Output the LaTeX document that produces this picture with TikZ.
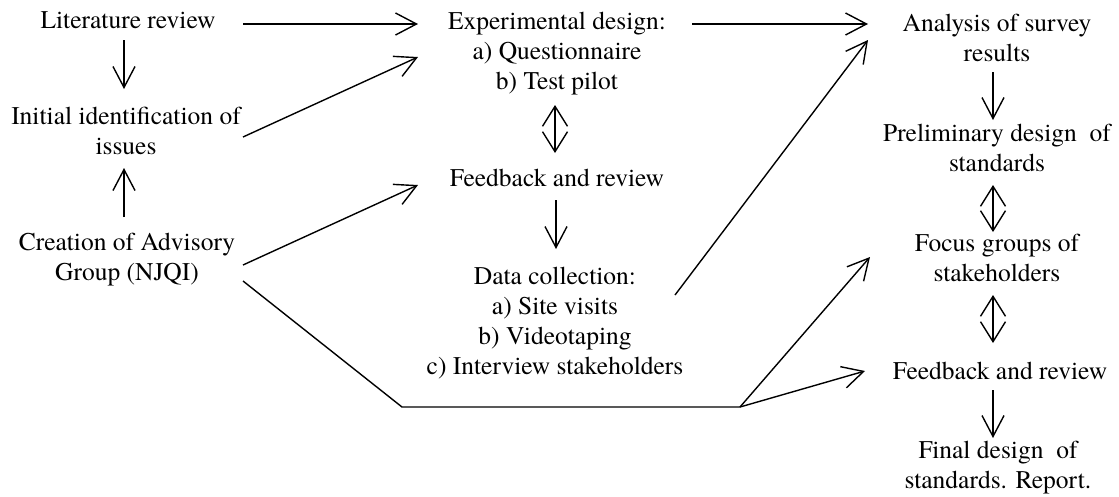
\documentclass[tikz,border=0pt]{standalone}
\usepackage{fontspec}
\IfFontExistsTF{texgyretermes-regular.otf}
  {\setmainfont{texgyretermes-regular.otf}}
  {\setmainfont{Liberation Serif}}
\usetikzlibrary{calc,arrows.meta}

\begin{document}
\begin{tikzpicture}[x=1pt,y=-1pt,
  label/.style={align=center,inner sep=0pt,font=\rmfamily\fontsize{25.5}{30}\selectfont},
  link/.style={line width=1.4pt,-{Straight Barb[length=21pt,width=22pt]}},
  twoway/.style={line width=1.4pt,{Straight Barb[length=20pt,width=25pt]}-{Straight Barb[length=20pt,width=25pt]}},
  plain/.style={line width=1.4pt,line join=miter}]
\useasboundingbox (0,0) rectangle (1119,496);

% left column
\node[label] (lit)  at (128,20)    {Literature review};
\node[label] (init) at (126,131)   {Initial identification of\\issues};
\node[label] (adv)  at (127,259.5) {Creation of Advisory\\Group (NJQI)};

% middle column
\node[label] (exp)  at (557,54)  {Experimental design:\\a) Questionnaire\\b) Test pilot};
\node[label] (fb1)  at (557,178) {Feedback and review};
\node[label] (data) at (555,323) {Data collection:\\a) Site visits\\b) Videotaping\\c) Interview stakeholders};

% right column
\node[label] (anl)  at (997,38)    {Analysis of survey\\results};
\node[label] (pre)  at (997,148)   {Preliminary design~ of\\standards};
\node[label] (foc)  at (997,258)   {Focus groups of\\stakeholders};
\node[label] (fb2)  at (1000,370.5){Feedback and review};
\node[label] (fin)  at (998,468)   {Final design~ of\\standards. Report.};

% route from the advisory group along the bottom
\coordinate (bend) at (402,407);
\coordinate (fork) at (740,407);

% left column links
\draw[link] ($(lit)+(115,4)$)  -- ($(exp)+(-139,-30)$);
\draw[link] ($(lit)+(-4,20)$)  -- ($(init)+(-2,-42)$);
\draw[link] ($(init)+(117,6)$) -- ($(exp)+(-139,3)$);
\draw[link] ($(adv)+(-3,-42.5)$) -- ($(init)+(-2,37)$);
\draw[link] ($(adv)+(116,5.5)$) -- ($(fb1)+(-139,7)$);
\draw[plain] ($(adv)+(116,21.5)$) -- (bend) -- (fork);
\draw[link] (fork) -- ($(foc)+(-127,-1)$);
\draw[link] (fork) -- ($(fb2)+(-135,0.5)$);

% middle column links
\draw[link]   ($(exp)+(135,-30)$) -- ($(anl)+(-129,-14)$);
\draw[twoway] ($(exp)+(-2,51)$)   -- ($(fb1)+(-2,-25)$);
\draw[link]   ($(fb1)+(-1,22)$)   -- ($(data)+(1,-74)$);
\draw[link]   ($(data)+(120,-28)$) -- ($(anl)+(-129,2)$);

% right column links
\draw[link]   ($(anl)+(-4,34)$)   -- ($(pre)+(-4,-28)$);
\draw[twoway] ($(pre)+(-4,37)$)   -- ($(foc)+(-4,-26)$);
\draw[twoway] ($(foc)+(-4,37)$)   -- ($(fb2)+(-7,-27.5)$);
\draw[link]   ($(fb2)+(-7,19.5)$) -- ($(fin)+(-5,-30)$);
\end{tikzpicture}
\end{document}
